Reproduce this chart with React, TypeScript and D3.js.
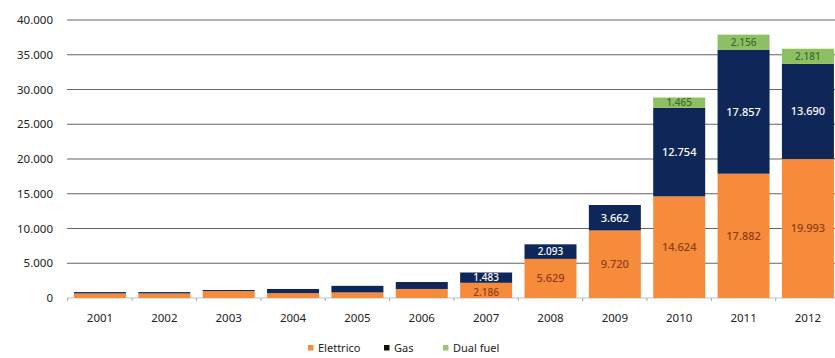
import React from "react";
import * as d3 from "d3";

// Italian-format numbers (dot as thousands separator)
const itFormat = d3.formatLocale({
  decimal: ",",
  thousands: ".",
  grouping: [3],
  currency: ["€", ""],
}).format(",d");

const years = ["2001", "2002", "2003", "2004", "2005", "2006", "2007", "2008", "2009", "2010", "2011", "2012"];
const elettrico = [650, 650, 1000, 700, 800, 1300, 2186, 5629, 9720, 14624, 17882, 19993];
const gas = [200, 200, 150, 600, 950, 1000, 1483, 2093, 3662, 12754, 17857, 13690];
const dualFuel = [0, 0, 0, 0, 0, 0, 0, 0, 0, 1465, 2156, 2181];
// segment labels shown only from 2007 on
const labelFrom = 6;

const yTicks = [0, 5000, 10000, 15000, 20000, 25000, 30000, 35000, 40000];

const seriesKeys = ["elettrico", "gas", "dual"] as const;
const seriesNames = ["Elettrico", "Gas", "Dual fuel"];
const colors = ["#F68B3C", "#0F2758", "#8DC063"];
const legendMarkers = ["#F68B3C", "#111111", "#9CC27A"];
const labelColors = ["#8E3D14", "#FFFFFF", "#3D6B2C"];

const W = 835;
const H = 358;

export default function App() {
  const rows = years.map((y, i) => ({
    year: y,
    elettrico: elettrico[i],
    gas: gas[i],
    dual: dualFuel[i],
  }));

  const x = d3
    .scaleBand<string>()
    .domain(years)
    .range([67.8, 840.1])
    .paddingInner(0.192)
    .paddingOuter(0.096);

  const y = d3.scaleLinear().domain([0, 40000]).range([298, 20]);

  const stack = d3.stack<any>().keys(seriesKeys as unknown as string[]);
  const layers = stack(rows);

  const font = "'Noto Sans', 'Open Sans', sans-serif";

  return (
    <svg
      width={W}
      height={H}
      style={{ position: "absolute", left: 0, top: 0, background: "#fff" }}
      fontFamily={font}
    >
      {/* horizontal gridlines and y labels */}
      {yTicks.map((t) => (
        <g key={t}>
          {t > 0 && (
            <line x1={67} x2={W} y1={y(t)} y2={y(t)} stroke="#666" strokeWidth={1.1} />
          )}
          <text
            x={53}
            y={y(t)}
            dy="0.35em"
            textAnchor="end"
            fontSize={11.5}
            fill="#222"
          >
            {itFormat(t)}
          </text>
        </g>
      ))}

      {/* baseline with small category ticks */}
      <line x1={67} x2={W} y1={y(0)} y2={y(0)} stroke="#b9c4c8" strokeWidth={1} />
      {years.map((yr) => {
        const bx = (x(yr) as number) - (x.step() - x.bandwidth()) / 2;
        return <line key={yr} x1={bx} x2={bx} y1={y(0)} y2={y(0) + 3} stroke="#9aaab0" strokeWidth={1} />;
      })}

      {/* stacked bars */}
      {layers.map((layer, si) => (
        <g key={layer.key}>
          {layer.map((d, i) => {
            const h = y(d[0]) - y(d[1]);
            if (h <= 0) return null;
            return (
              <rect
                key={years[i]}
                x={x(years[i])}
                y={y(d[1])}
                width={x.bandwidth()}
                height={h}
                fill={colors[si]}
              />
            );
          })}
        </g>
      ))}

      {/* segment value labels; short segments get a smaller font */}
      {layers.map((layer, si) => (
        <g key={"lbl-" + layer.key}>
          {layer.map((d, i) => {
            if (i < labelFrom) return null;
            const v = d[1] - d[0];
            if (v <= 0) return null;
            const h = y(d[0]) - y(d[1]);
            const small = h < 18;
            const cy = (y(d[0]) + y(d[1])) / 2 + (small && si === 0 ? 1.5 : 0);
            return (
              <text
                key={years[i]}
                x={(x(years[i]) as number) + x.bandwidth() / 2}
                y={cy}
                dy="0.36em"
                textAnchor="middle"
                fontSize={small ? 10 : 11}
                fontWeight={500}
                fill={labelColors[si]}
              >
                {itFormat(v)}
              </text>
            );
          })}
        </g>
      ))}

      {/* x labels */}
      {years.map((yr) => (
        <text
          key={yr}
          x={(x(yr) as number) + x.bandwidth() / 2}
          y={322}
          textAnchor="middle"
          fontSize={11.5}
          fill="#222"
        >
          {yr}
        </text>
      ))}

      {/* legend */}
      {(() => {
        const positions = [308, 384, 443];
        return seriesNames.map((name, i) => (
          <g key={name}>
            <rect x={positions[i]} y={345} width={5.5} height={5.5} fill={legendMarkers[i]} />
            <text x={positions[i] + 10} y={352} fontSize={11} fill="#222">
              {name}
            </text>
          </g>
        ));
      })()}
    </svg>
  );
}
